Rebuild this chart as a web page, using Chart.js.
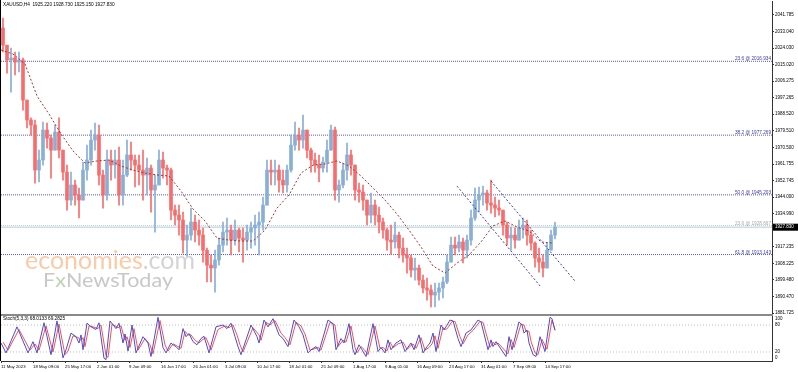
<!DOCTYPE html>
<html>
<head>
<meta charset="utf-8">
<script src="https://cdn.jsdelivr.net/npm/chart.js@4.4.0/dist/chart.umd.min.js"></script>
<style>
  html, body { margin: 0; padding: 0; background: #fff; }
  #wrap { position: relative; width: 798px; height: 372px; overflow: hidden; background: #fff; }
  #main { position: absolute; left: 0; top: 0; }
  #osc { position: absolute; left: 0; top: 314px; }
</style>
</head>
<body>
<div id="wrap">
  <canvas id="main" width="798" height="322"></canvas>
  <canvas id="osc" width="798" height="58"></canvas>
</div>
<script>
// XAUUSD H4, each drawn candle groups 4 H4 bars
const titleText = "XAUUSD,H4  1925.220 1928.730 1925.150 1927.830";
const stochTitle = "Stoch(5,3,3) 68.0133 69.2825";

const priceTicks = [2041.785, 2033.040, 2024.030, 2015.020, 2006.275, 1997.265, 1988.520, 1979.510,
  1970.500, 1961.755, 1952.745, 1944.000, 1934.990, 1917.235, 1908.225, 1899.480, 1890.470, 1881.725];
const dateLabels = ["11 May 2023", "18 May 09:00", "25 May 17:00", "2 Jun 01:00", "9 Jun 09:00",
  "16 Jun 17:00", "26 Jun 01:00", "3 Jul 09:00", "10 Jul 17:00", "18 Jul 01:00", "25 Jul 09:00",
  "1 Aug 17:00", "9 Aug 01:00", "16 Aug 09:00", "23 Aug 17:00", "31 Aug 01:00", "7 Sep 09:00", "14 Sep 17:00"];
const barsPerLabel = 32;
const barsPerGroup = 4;

const firstOpen = 2034.8;
const highs = [2040.1, 2023.0, 2024.0, 2021.9, 2021.9, 2018.7, 1996.1, 1986.5, 1985.4, 1969.2,
  1984.3, 1983.8, 1977.3, 1982.7, 1986.5, 1969.2, 1961.2, 1957.4, 1953.1, 1948.9,
  1962.8, 1971.9, 1980.0, 1983.8, 1982.7, 1958.5, 1969.2, 1969.2, 1969.2, 1970.9,
  1963.9, 1974.6, 1973.5, 1966.6, 1966.6, 1969.2, 1965.0, 1961.2, 1955.8, 1969.2,
  1968.2, 1961.2, 1959.6, 1939.7, 1939.7, 1936.0, 1929.0, 1938.1, 1934.3, 1931.7,
  1927.4, 1916.6, 1912.9, 1915.5, 1922.0, 1930.6, 1932.7, 1929.0, 1931.7, 1927.4,
  1927.4, 1929.0, 1930.6, 1934.3, 1936.0, 1944.0, 1963.9, 1963.9, 1963.9, 1961.2,
  1958.5, 1961.2, 1977.3, 1984.3, 1981.1, 1988.1, 1980.0, 1970.3, 1967.6, 1966.6,
  1965.5, 1974.6, 1982.7, 1981.6, 1953.1, 1962.3, 1973.0, 1969.2, 1961.2, 1951.5,
  1950.5, 1942.4, 1946.2, 1942.4, 1938.6, 1932.7, 1927.4, 1929.0, 1930.6, 1925.2,
  1922.0, 1916.6, 1912.9, 1911.3, 1907.5, 1902.1, 1900.5, 1896.8, 1897.8, 1897.8,
  1901.1, 1912.9, 1922.5, 1922.5, 1923.6, 1922.0, 1923.6, 1937.0, 1948.9, 1949.4,
  1949.9, 1947.8, 1953.1, 1944.0, 1942.4, 1937.0, 1930.6, 1927.9, 1927.4, 1931.7,
  1932.7, 1931.7, 1926.3, 1920.0, 1916.6, 1912.9, 1919.3, 1926.3, 1930.5];
const lows = [2021.9, 2010.6, 2000.4, 2009.6, 2011.2, 1990.7, 1981.1, 1977.3, 1951.5, 1952.1,
  1961.2, 1970.3, 1954.2, 1969.2, 1965.0, 1953.1, 1937.0, 1939.7, 1939.7, 1932.8,
  1942.4, 1953.1, 1961.2, 1969.2, 1950.5, 1938.1, 1942.4, 1953.1, 1954.2, 1939.7,
  1939.7, 1955.0, 1958.5, 1949.4, 1950.5, 1942.4, 1945.1, 1935.9, 1925.2, 1950.5,
  1954.2, 1950.5, 1931.7, 1929.0, 1923.6, 1913.9, 1912.3, 1920.9, 1919.9, 1918.2,
  1909.1, 1898.4, 1898.4, 1893.0, 1907.5, 1914.5, 1918.2, 1912.9, 1918.2, 1914.5,
  1909.1, 1915.5, 1916.6, 1918.2, 1912.9, 1926.3, 1939.7, 1950.5, 1950.5, 1946.7,
  1946.2, 1946.7, 1957.4, 1969.2, 1969.2, 1970.3, 1965.0, 1957.4, 1957.4, 1952.1,
  1957.4, 1957.4, 1969.2, 1942.4, 1941.3, 1948.9, 1953.1, 1955.8, 1942.4, 1941.3,
  1937.0, 1929.0, 1930.1, 1929.0, 1924.7, 1922.0, 1915.5, 1913.4, 1916.6, 1911.3,
  1909.1, 1903.2, 1901.1, 1899.4, 1896.8, 1892.5, 1888.7, 1885.0, 1885.0, 1888.7,
  1889.8, 1897.5, 1909.1, 1912.9, 1914.5, 1908.6, 1911.3, 1918.2, 1931.5, 1936.0,
  1939.7, 1937.0, 1935.4, 1933.3, 1934.3, 1923.6, 1918.2, 1915.5, 1916.6, 1920.9,
  1922.0, 1918.2, 1915.5, 1906.4, 1903.7, 1901.1, 1905.9, 1915.5, 1921.5];
const closes = [2025.6, 2017.6, 2018.7, 2016.5, 2017.6, 1996.1, 1985.4, 1982.7, 1958.5, 1963.9,
  1980.0, 1975.7, 1969.2, 1978.9, 1969.2, 1957.4, 1942.4, 1950.5, 1945.1, 1942.4,
  1958.5, 1963.9, 1974.6, 1977.3, 1955.8, 1945.1, 1963.9, 1961.2, 1963.9, 1945.1,
  1955.8, 1966.6, 1963.9, 1961.2, 1958.5, 1955.8, 1959.6, 1947.8, 1950.5, 1963.9,
  1959.6, 1958.5, 1937.0, 1934.3, 1931.7, 1920.9, 1923.6, 1930.6, 1926.3, 1923.6,
  1915.5, 1907.5, 1905.9, 1910.2, 1918.2, 1925.2, 1926.3, 1920.9, 1926.3, 1922.0,
  1920.9, 1925.2, 1927.4, 1929.0, 1930.6, 1939.7, 1958.5, 1957.4, 1958.5, 1953.1,
  1950.5, 1958.5, 1971.9, 1977.3, 1974.6, 1980.0, 1969.2, 1963.9, 1961.2, 1959.6,
  1962.8, 1969.2, 1980.0, 1947.8, 1950.5, 1958.5, 1966.6, 1961.2, 1947.8, 1946.7,
  1942.4, 1934.3, 1939.7, 1934.3, 1930.6, 1926.3, 1920.9, 1919.9, 1923.6, 1916.6,
  1912.9, 1911.3, 1904.8, 1905.9, 1899.4, 1895.2, 1894.1, 1891.4, 1893.0, 1895.2,
  1898.4, 1909.1, 1918.2, 1916.6, 1919.9, 1915.5, 1920.9, 1932.7, 1942.4, 1945.1,
  1946.2, 1940.8, 1939.7, 1938.1, 1937.0, 1929.0, 1922.0, 1923.6, 1920.9, 1927.4,
  1929.0, 1923.6, 1919.3, 1911.3, 1909.1, 1905.9, 1915.5, 1923.6, 1927.83];

// moving average, one reading every 12 H4 bars
const maStep = 12;
const maValues = [2023.0, 2020.8, 2015.5, 1998.3, 1988.6, 1977.9, 1968.8, 1962.3, 1963.4, 1963.9,
  1960.7, 1958.5, 1956.9, 1955.9, 1955.3, 1947.3, 1937.6, 1931.2, 1922.0, 1920.9,
  1920.4, 1920.4, 1926.3, 1938.1, 1945.1, 1956.9, 1961.2, 1961.8, 1963.4, 1960.7,
  1955.3, 1948.9, 1942.4, 1934.9, 1926.3, 1917.2, 1907.0, 1903.2, 1908.6, 1912.9,
  1919.9, 1928.5, 1931.2, 1927.9, 1925.8, 1919.9, 1919.3];

const fibNames = ["23.6", "38.2", "50.0", "23.6", "61.8"];
const fibPrices = [2016.934, 1977.269, 1945.203, 1928.667, 1913.143];
const fibMuted = [false, false, false, true, false];
const lastPrice = 1927.83;

// descending channel, [start bar, end bar] and [start price, end price]
const channelBars = [[456, 539], [490, 574]];
const channelPrices = [[1949.9, 1896.3], [1952.6, 1898.9]];

// stochastic turning points
const stochKBars = [0, 5, 16, 27, 32, 36, 43, 50, 56, 62, 65, 70, 75, 78, 80, 82, 86, 90, 95, 98,
  103, 105, 109, 115, 118, 122, 124, 127, 131, 135, 142, 147, 150, 157, 162, 165, 170, 172, 175, 178,
  182, 185, 188, 192, 196, 200, 203, 208, 215, 222, 226, 230, 234, 237, 240, 250, 256, 258, 263, 267,
  272, 278, 282, 287, 293, 298, 302, 307, 310, 315, 318, 327, 332, 335, 340, 343, 348, 352, 354, 358,
  361, 365, 372, 377, 380, 384, 387, 390, 395, 400, 404, 410, 413, 418, 422, 426, 429, 432, 435, 440,
  443, 445, 449, 452, 457, 460, 465, 470, 477, 480, 487, 490, 492, 495, 505, 508, 511, 518, 521, 523,
  526, 528, 532, 535, 539, 544, 549, 551, 554];
const stochK = [40, 18, 76, 18, 43, 18, 85, 14, 89, 7, 25, 62, 54, 40, 58, 25, 84, 76, 70, 85,
  6, 3, 89, 72, 84, 40, 60, 22, 80, 18, 54, 40, 10, 97, 30, 18, 40, 36, 32, 25,
  72, 54, 61, 43, 36, 50, 55, 18, 76, 80, 72, 84, 54, 32, 14, 80, 54, 40, 91, 76,
  94, 58, 50, 32, 91, 76, 58, 18, 25, 32, 21, 91, 83, 25, 50, 40, 83, 25, 14, 36,
  25, 10, 83, 21, 30, 18, 47, 25, 40, 47, 21, 40, 25, 58, 18, 32, 40, 62, 21, 80,
  69, 76, 91, 89, 50, 32, 62, 69, 91, 87, 25, 47, 32, 43, 10, 54, 25, 87, 80, 62,
  69, 40, 14, 10, 54, 21, 97, 94, 68.01];
const stochDBars = [2, 7, 18, 29, 34, 38, 45, 52, 58, 64, 67, 72, 77, 80, 82, 84, 88, 92, 97, 100,
  105, 107, 111, 117, 120, 124, 126, 129, 133, 137, 144, 149, 152, 159, 164, 167, 172, 174, 177, 180,
  184, 187, 190, 194, 198, 202, 205, 210, 217, 224, 228, 232, 236, 239, 242, 252, 258, 260, 265, 269,
  274, 280, 284, 289, 295, 300, 304, 309, 312, 317, 320, 329, 334, 337, 342, 345, 350, 354, 356, 360,
  363, 367, 374, 379, 382, 386, 389, 392, 397, 402, 406, 412, 415, 420, 424, 428, 431, 434, 437, 442,
  445, 447, 451, 454, 459, 462, 467, 472, 479, 482, 489, 492, 494, 497, 507, 510, 513, 520, 523, 525,
  528, 530, 534, 537, 541, 546, 551, 554];
const stochD = [42, 24, 70, 24, 38, 24, 78, 20, 82, 14, 22, 56, 52, 46, 52, 32, 78, 76, 72, 80,
  12, 8, 82, 74, 78, 46, 54, 30, 72, 24, 50, 36, 16, 90, 36, 22, 38, 36, 32, 28,
  66, 58, 58, 46, 40, 48, 52, 24, 70, 78, 74, 80, 58, 36, 20, 74, 58, 46, 86, 80,
  90, 62, 52, 36, 86, 78, 60, 24, 26, 30, 24, 86, 80, 32, 46, 42, 78, 30, 18, 32,
  26, 14, 78, 28, 30, 22, 42, 30, 38, 42, 26, 38, 28, 52, 24, 30, 38, 56, 28, 74,
  70, 74, 88, 88, 54, 38, 58, 68, 88, 86, 30, 42, 36, 40, 16, 48, 30, 82, 80, 66,
  66, 44, 18, 14, 48, 26, 91, 69.28];
const stochLevels = [80, 20];
const stochLabels = [100, 80, 20, 0];

const UP = "#89afd7";
const DOWN = "#fb6b6b";
const FIB = "#5a5ac4";
const FIB_TEXT = "#3a3aa8";
const FONT = '"Liberation Sans", Arial, sans-serif';
const LAST_BAR = 771;

Chart.defaults.font.family = FONT;
Chart.defaults.animation = false;

const opens = closes.map((c, i) => i === 0 ? firstOpen : closes[i - 1]);
const groupBars = closes.map((c, i) => i * barsPerGroup + barsPerGroup / 2);
const candleColors = closes.map((c, i) => c >= opens[i] ? UP : DOWN);

const flat = (y) => [{ x: 0, y }, { x: LAST_BAR, y }];

const mainDecor = {
  id: "mainDecor",
  beforeDatasetsDraw(chart) {
    const ctx = chart.ctx;
    ctx.save();
    ctx.textBaseline = "alphabetic";
    ctx.font = "25px Lato";
    const w1 = ctx.measureText("economies").width;
    const w2 = ctx.measureText(".com").width;
    ctx.translate(25, 269);
    ctx.scale(170 / (w1 + w2), 1);
    ctx.fillStyle = "#fbcaa6";
    ctx.fillText("economies", 0, 0);
    ctx.fillStyle = "#d4d4d4";
    ctx.fillText(".com", w1, 0);
    ctx.restore();

    ctx.save();
    ctx.font = "20px Lato";
    const f = ctx.measureText("F").width;
    const x = ctx.measureText("x").width;
    const rest = ctx.measureText("NewsToday").width;
    ctx.translate(43, 287);
    ctx.scale(130 / (f + x + rest), 1);
    ctx.fillStyle = "#c8c8c8";
    ctx.fillText("F", 0, 0);
    ctx.fillStyle = "#bcd3b6";
    ctx.fillText("x", f, 0);
    ctx.fillStyle = "#c8c8c8";
    ctx.fillText("NewsToday", f + x, 0);
    ctx.restore();
  },
  afterDatasetsDraw(chart) {
    const { ctx, chartArea, scales: { y } } = chart;
    ctx.save();
    ctx.font = "4.7px " + FONT;
    ctx.textAlign = "right";
    ctx.textBaseline = "alphabetic";
    fibPrices.forEach((p, i) => {
      ctx.fillStyle = fibMuted[i] ? "#a8a8a8" : FIB_TEXT;
      ctx.fillText(fibNames[i] + " @ " + p.toFixed(3), chartArea.right - 1, y.getPixelForValue(p) - 1);
    });
    ctx.textAlign = "left";
    ctx.textBaseline = "middle";
    ctx.fillStyle = "#000";
    ctx.fillText(titleText, 3, 5);

    const py = y.getPixelForValue(lastPrice);
    ctx.fillStyle = "#000";
    ctx.fillRect(chartArea.right + 1, py - 3.5, 25, 7);
    ctx.fillStyle = "#fff";
    ctx.font = "4.5px " + FONT;
    ctx.fillText(lastPrice.toFixed(3), chartArea.right + 3, py);

    ctx.fillStyle = "#000";
    ctx.fillRect(0, 0, 1, chartArea.bottom);
    ctx.restore();
  }
};

new Chart(document.getElementById("main"), {
  type: "bar",
  data: {
    datasets: [
      {
        type: "line", data: maValues.map((v, i) => ({ x: i * maStep, y: v })),
        borderColor: "#a53434", borderWidth: 1, borderDash: [2, 2], pointRadius: 0, tension: 0, order: 0
      },
      ...channelBars.map((b, k) => ({
        type: "line", data: [{ x: b[0], y: channelPrices[k][0] }, { x: b[1], y: channelPrices[k][1] }],
        borderColor: FIB_TEXT, borderWidth: 1, borderDash: [2, 2], pointRadius: 0, order: 0
      })),
      {
        type: "bar", data: groupBars.map((b, i) => ({ x: b, y: [opens[i], closes[i]] })),
        backgroundColor: candleColors, barThickness: 3, grouped: false, borderWidth: 0, order: 1
      },
      {
        type: "bar", data: groupBars.map((b, i) => ({ x: b, y: [lows[i], highs[i]] })),
        backgroundColor: candleColors, barThickness: 1, grouped: false, borderWidth: 0, order: 2
      },
      {
        type: "line", data: flat(lastPrice),
        borderColor: "#c9e0ea", borderWidth: 1.5, pointRadius: 0, order: 3
      },
      ...fibPrices.map((p, i) => ({
        type: "line", data: flat(p),
        borderColor: fibMuted[i] ? "#c4c4c4" : FIB, borderWidth: 1, borderDash: [1, 1], pointRadius: 0, order: 3
      }))
    ]
  },
  options: {
    responsive: false,
    animation: false,
    layout: { padding: { top: 1, left: 1, right: 0, bottom: 8 }, autoPadding: false },
    plugins: { legend: { display: false }, tooltip: { enabled: false } },
    scales: {
      x: { type: "linear", min: 0, max: LAST_BAR, offset: false, display: false },
      y: {
        position: "right", min: 1881.22, max: 2049.30,
        afterBuildTicks: (s) => { s.ticks = priceTicks.map(v => ({ value: v })); },
        afterFit: (s) => { s.width = 26; s.paddingTop = 0; s.paddingBottom = 0; },
        ticks: { callback: (v) => Number(v).toFixed(3), font: { size: 4.5 }, color: "#000", padding: 1, autoSkip: false },
        grid: { drawOnChartArea: false, tickLength: 2, color: "#333" },
        border: { display: true, color: "#333", width: 1 }
      }
    }
  },
  plugins: [mainDecor]
});

const oscDecor = {
  id: "oscDecor",
  afterDraw(chart) {
    const { ctx, chartArea, scales: { y } } = chart;
    ctx.save();
    ctx.fillStyle = "#8a8a8a";
    ctx.fillRect(0, 0, chartArea.right + 1, 2);
    ctx.fillStyle = "#000";
    ctx.fillRect(0, 0, 1, chartArea.bottom);
    ctx.font = "4.7px " + FONT;
    ctx.textBaseline = "middle";
    ctx.textAlign = "left";
    ctx.fillText(stochTitle, 3, 5);
    ctx.font = "4.5px " + FONT;
    stochLabels.forEach(v => {
      const py = Math.min(Math.max(y.getPixelForValue(v), chartArea.top + 3), chartArea.bottom - 3);
      ctx.fillText(String(v), chartArea.right + 3, py);
    });
    ctx.restore();
  }
};

new Chart(document.getElementById("osc"), {
  type: "line",
  data: {
    datasets: [
      {
        data: stochKBars.map((b, i) => ({ x: b, y: stochK[i] })),
        borderColor: "#4b4bd2", borderWidth: 1, pointRadius: 0, tension: 0, order: 1
      },
      {
        data: stochDBars.map((b, i) => ({ x: b, y: stochD[i] })),
        borderColor: "#f55050", borderWidth: 1, pointRadius: 0, tension: 0, order: 2
      },
      ...stochLevels.map(v => ({
        data: flat(v), borderColor: "#bdbdbd", borderWidth: 1, borderDash: [1, 2], pointRadius: 0, order: 3
      }))
    ]
  },
  options: {
    responsive: false,
    animation: false,
    layout: { padding: { top: 2, left: 1, right: 0, bottom: 0 }, autoPadding: false },
    plugins: { legend: { display: false }, tooltip: { enabled: false } },
    scales: {
      x: {
        type: "linear", min: 0, max: LAST_BAR, offset: false, position: "bottom",
        afterBuildTicks: (s) => { s.ticks = dateLabels.map((l, k) => ({ value: k * barsPerLabel })); },
        afterFit: (s) => { s.height = 11; s.paddingLeft = 0; s.paddingRight = 0; },
        ticks: {
          callback: (v, i) => dateLabels[i], align: "start", autoSkip: false, maxRotation: 0,
          font: { size: 4.3 }, color: "#000", padding: 1
        },
        grid: { drawOnChartArea: false, tickLength: 2, color: "#333" },
        border: { display: true, color: "#333", width: 1 }
      },
      y: {
        position: "right", min: 0, max: 100,
        afterFit: (s) => { s.width = 26; s.paddingTop = 0; s.paddingBottom = 0; },
        ticks: { display: false },
        grid: { display: false },
        border: { display: true, color: "#333", width: 1 }
      }
    }
  },
  plugins: [oscDecor]
});
</script>
</body>
</html>
